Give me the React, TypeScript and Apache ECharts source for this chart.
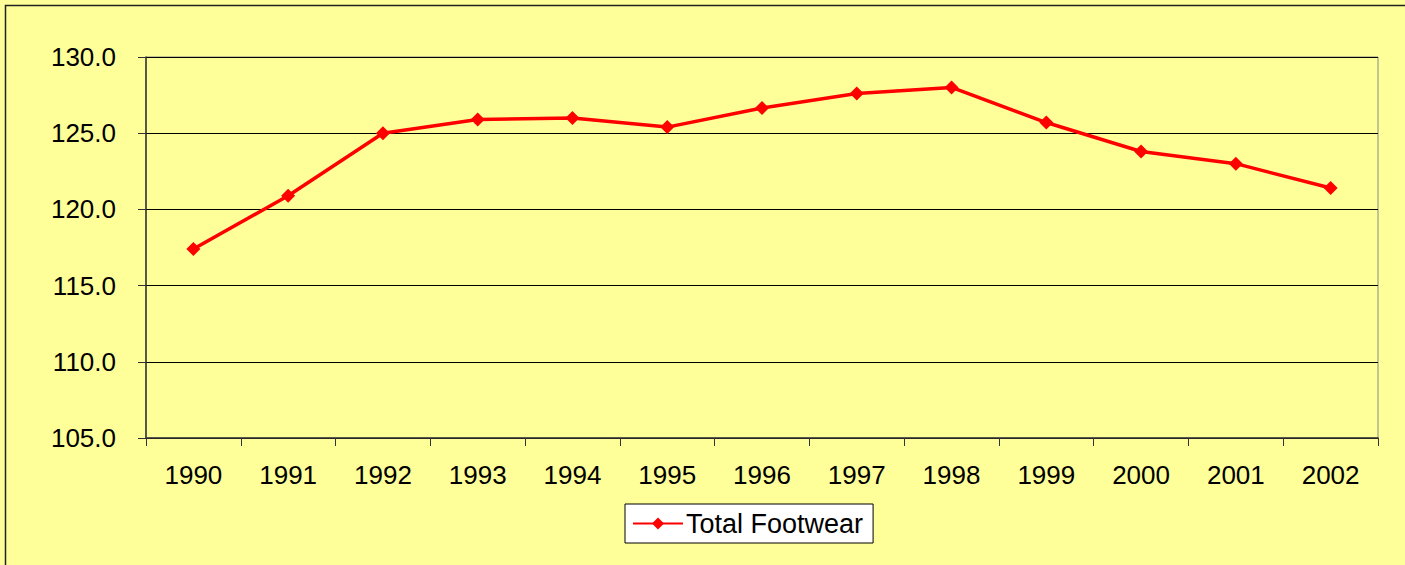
import React, { useEffect, useRef } from "react";
import * as echarts from "echarts";

const years = ["1990","1991","1992","1993","1994","1995","1996","1997","1998","1999","2000","2001","2002"];
const totalFootwear = [117.4, 120.9, 125.0, 125.9, 126.0, 125.4, 126.65, 127.6, 128.0, 125.7, 123.8, 123.0, 121.4];
const seriesName = "Total Footwear";

export default function App() {
  const ref = useRef<HTMLDivElement>(null);
  useEffect(() => {
    if (!ref.current) return;
    const chart = echarts.init(ref.current, null, { renderer: "svg" });
    const font = "'Liberation Sans', Arial, sans-serif";
    chart.setOption({
      animation: false,
      backgroundColor: "#FFFF99",
      textStyle: { fontFamily: font },
      graphic: [
        {
          type: "rect",
          shape: { x: 5.5, y: 5.5, width: 1420, height: 580 },
          style: { fill: "none", stroke: "#222", lineWidth: 1.5 },
          silent: true,
        },
      ],
      grid: { left: 146, top: 57, right: 27, bottom: 127, show: true, borderColor: "#888", borderWidth: 1, backgroundColor: "transparent" },
      legend: {
        data: [seriesName],
        left: 625,
        top: 504,
        backgroundColor: "#fff",
        borderColor: "#000",
        borderWidth: 1,
        borderRadius: 0,
        padding: [6, 10, 6, 7],
        itemWidth: 50,
        itemHeight: 15,
        itemGap: 6,
        textStyle: { fontSize: 27, color: "#000", fontFamily: font, padding: [0, 0, 0, -2] },
      },
      xAxis: {
        type: "category",
        data: years,
        boundaryGap: true,
        axisLine: { lineStyle: { color: "#333", width: 1.5 } },
        axisTick: { show: true, alignWithLabel: false, length: 8, lineStyle: { color: "#333" } },
        axisLabel: { fontSize: 26, color: "#000", margin: 24, fontFamily: font },
        splitLine: { show: false },
      },
      yAxis: {
        type: "value",
        min: 105,
        max: 130,
        interval: 5,
        axisLine: { show: true, lineStyle: { color: "#333", width: 1.5 } },
        axisTick: { show: true, length: 8, lineStyle: { color: "#333" } },
        axisLabel: { fontSize: 26, color: "#000", margin: 30, fontFamily: font, formatter: (v: number) => v.toFixed(1) },
        splitLine: { show: true, lineStyle: { color: "#000", width: 1 } },
      },
      series: [
        {
          name: seriesName,
          type: "line",
          data: totalFootwear,
          symbol: "diamond",
          symbolSize: 14,
          lineStyle: { color: "#FF0000", width: 3.5 },
          itemStyle: { color: "#FF0000" },
        },
      ],
    });
    return () => chart.dispose();
  }, []);
  return <div ref={ref} style={{ position: "fixed", left: 0, top: 0, width: 1405, height: 565 }} />;
}
